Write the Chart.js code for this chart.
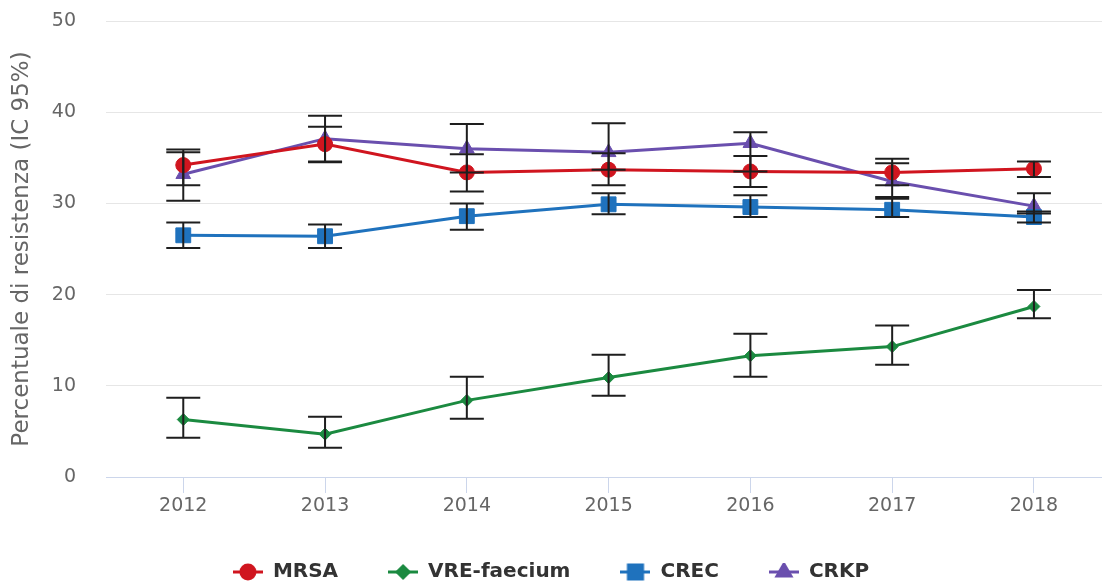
<!DOCTYPE html>
<html>
<head>
<meta charset="utf-8">
<script src="https://cdn.jsdelivr.net/npm/chart.js@4/dist/chart.umd.min.js"></script>
<style>
  body { margin: 0; background: #fff; }
  #wrap { width: 1102px; height: 584px; }
</style>
</head>
<body>
<div id="wrap"><canvas id="chart"></canvas></div>
<script>
const years = [2012, 2013, 2014, 2015, 2016, 2017, 2018];

const mrsa     = [34.2, 36.5, 33.4, 33.7, 33.5, 33.4, 33.8];
const mrsaLow  = [32.0, 34.5, 31.3, 32.0, 31.8, 32.0, 32.9];
const mrsaHigh = [35.9, 38.4, 35.4, 35.5, 35.2, 34.9, 34.6];

const vre      = [6.3, 4.7, 8.4, 10.9, 13.3, 14.3, 18.7];
const vreLow   = [4.3, 3.2, 6.4, 8.9, 11.0, 12.3, 17.4];
const vreHigh  = [8.7, 6.6, 11.0, 13.4, 15.7, 16.6, 20.5];

const crec     = [26.5, 26.4, 28.6, 29.9, 29.6, 29.3, 28.5];
const crecLow  = [25.1, 25.1, 27.1, 28.8, 28.5, 28.5, 27.9];
const crecHigh = [27.9, 27.7, 30.0, 31.1, 30.9, 30.5, 29.1];

const crkp     = [33.2, 37.1, 36.0, 35.6, 36.6, 32.4, 29.7];
const crkpLow  = [30.3, 34.6, 33.4, 33.7, 33.5, 30.7, 28.9];
const crkpHigh = [35.6, 39.6, 38.7, 38.8, 37.8, 34.4, 31.1];

const yTicks = [0, 10, 20, 30, 40, 50];

Chart.defaults.font.family = '"DejaVu Sans", sans-serif';
Chart.defaults.color = '#666';

// little line+marker picture for the legend
function legendSymbol(color, style, r) {
    const c = document.createElement('canvas');
    c.width = 30; c.height = 18;
    const g = c.getContext('2d');
    g.strokeStyle = color;
    g.fillStyle = color;
    g.lineWidth = 3;
    g.beginPath();
    g.moveTo(0, 9); g.lineTo(30, 9);
    g.stroke();
    Chart.helpers.drawPoint(g, {pointStyle: style, radius: r, borderWidth: 1}, 15, 9);
    g.fill();
    return c;
}

function toPoints(vals) {
    return years.map((yr, i) => ({x: yr, y: vals[i]}));
}

const series = [
    {label: 'MRSA', color: '#d0151f', style: 'circle', r: 7.5, lr: 7, vals: mrsa, low: mrsaLow, high: mrsaHigh},
    {label: 'VRE-faecium', color: '#1b8a40', style: 'rectRot', r: 6, lr: 6, vals: vre, low: vreLow, high: vreHigh},
    {label: 'CREC', color: '#1f72bd', style: 'rect', r: 10.5, lr: 10, vals: crec, low: crecLow, high: crecHigh},
    {label: 'CRKP', color: '#6a4fae', style: 'triangle', r: 8.5, lr: 8, vals: crkp, low: crkpLow, high: crkpHigh}
];

const errorBars = {
    id: 'errorBars',
    afterDatasetsDraw(chart) {
        const {ctx, scales: {x, y}} = chart;
        ctx.save();
        ctx.strokeStyle = '#1e1e1e';
        ctx.lineWidth = 2;
        chart.data.datasets.forEach((ds, i) => {
            if (!chart.isDatasetVisible(i)) return;
            ds.low.forEach((lo, j) => {
                const px = x.getPixelForValue(years[j]);
                const pLo = y.getPixelForValue(lo);
                const pHi = y.getPixelForValue(ds.high[j]);
                ctx.beginPath();
                ctx.moveTo(px, pLo); ctx.lineTo(px, pHi);
                ctx.moveTo(px - 17, pLo); ctx.lineTo(px + 17, pLo);
                ctx.moveTo(px - 17, pHi); ctx.lineTo(px + 17, pHi);
                ctx.stroke();
            });
        });
        ctx.restore();
    }
};

new Chart(document.getElementById('chart'), {
    type: 'line',
    data: {
        datasets: series.map(s => ({
            label: s.label,
            data: toPoints(s.vals),
            low: s.low,
            high: s.high,
            borderColor: s.color,
            backgroundColor: s.color,
            borderWidth: 3,
            pointStyle: s.style,
            pointRadius: s.r,
            pointBorderWidth: 1,
            pointBackgroundColor: s.color,
            pointBorderColor: s.color,
            tension: 0
        }))
    },
    options: {
        responsive: true,
        maintainAspectRatio: false,
        animation: false,
        layout: {autoPadding: false, padding: {top: 21, left: 0, right: 0, bottom: 0}},
        scales: {
            x: {
                type: 'linear',
                min: 2011.455,
                max: 2018.48,
                afterBuildTicks: s => { s.ticks = years.map(v => ({value: v})); },
                afterFit: s => { s.height = 35; s.paddingLeft = 0; s.paddingRight = 0; },
                grid: {
                    display: true,
                    drawOnChartArea: false,
                    drawTicks: true,
                    tickLength: 16,
                    color: '#ccd6eb'
                },
                border: {display: true, color: '#ccd6eb', width: 1},
                ticks: {
                    padding: 2,
                    color: '#666',
                    font: {size: 19},
                    maxRotation: 0,
                    callback: v => String(v)
                }
            },
            y: {
                min: 0,
                max: 50,
                afterBuildTicks: s => { s.ticks = yTicks.map(v => ({value: v})); },
                afterFit: s => { s.width = 106; s.paddingTop = 0; s.paddingBottom = 0; },
                grid: {color: '#e6e6e6', drawTicks: false, lineWidth: 1},
                border: {display: false},
                ticks: {padding: 30, color: '#666', font: {size: 19}},
                title: {
                    display: true,
                    text: 'Percentuale di resistenza (IC 95%)',
                    color: '#666',
                    font: {size: 23},
                    padding: {top: 8, bottom: 0}
                }
            }
        },
        plugins: {
            tooltip: {enabled: false},
            legend: {
                position: 'bottom',
                maxHeight: 72,
                labels: {
                    usePointStyle: true,
                    pointStyleWidth: 30,
                    padding: 50,
                    color: '#333',
                    font: {size: 20, weight: 'bold'},
                    generateLabels: chart => {
                        const items = Chart.defaults.plugins.legend.labels.generateLabels(chart);
                        items.forEach((it, i) => {
                            const s = series[i];
                            it.pointStyle = legendSymbol(s.color, s.style, s.lr);
                        });
                        return items;
                    }
                }
            }
        }
    },
    plugins: [errorBars]
});
</script>
</body>
</html>
